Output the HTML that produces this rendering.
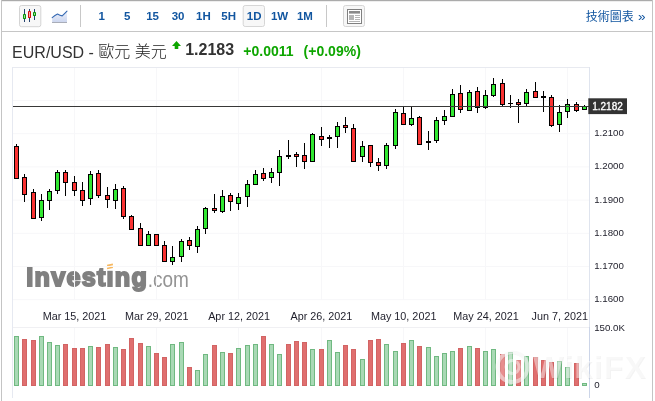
<!DOCTYPE html>
<html lang="zh-Hant"><head><meta charset="utf-8"><title>EUR/USD</title>
<style>
html,body{margin:0;padding:0;background:#fff;}
body{width:655px;height:401px;overflow:hidden;font-family:"Liberation Sans","Noto Sans CJK TC",sans-serif;}
svg{display:block;position:absolute;left:0;top:0;}
text{font-family:"Liberation Sans","Noto Sans CJK TC",sans-serif;}
.tb{font-size:11.5px;font-weight:bold;fill:#1256a0;}
.ax{font-size:9.7px;fill:#1e1e2a;}
.dt{font-size:10.8px;fill:#1e1e2a;}
</style></head><body>
<svg width="655" height="401" viewBox="0 0 655 401">
<rect x="0" y="0" width="655" height="401" fill="#fff"/>

<g id="frame">
<rect x="1" y="0" width="652" height="1.2" fill="#ababab"/>
<rect x="1" y="0" width="1" height="401" fill="#c4c4c4"/>
<rect x="652" y="0" width="1" height="401" fill="#c4c4c4"/>
<rect x="1" y="31" width="651" height="1" fill="#c6c6c6"/>
</g>
<g id="toolbar">
<rect x="19.5" y="5.5" width="21.3" height="21.2" rx="2" fill="#f7f7f7" stroke="#d4d4d4"/>
<rect x="24.0" y="9" width="1" height="13" fill="#24426e"/>
<rect x="23.0" y="14" width="3" height="5" rx="0.4" fill="#0b930b"/>
<rect x="24.0" y="15" width="1" height="3" fill="#9be29b"/>
<rect x="29.0" y="9" width="1" height="13" fill="#24426e"/>
<rect x="28.0" y="11" width="3" height="7" rx="0.4" fill="#d40f0f"/>
<rect x="29.0" y="12" width="1" height="5" fill="#f9a3a3"/>
<rect x="34.0" y="9" width="1" height="11" fill="#24426e"/>
<rect x="33.0" y="12" width="3" height="4" rx="0.4" fill="#0b930b"/>
<rect x="34.0" y="13" width="1" height="2" fill="#9be29b"/>
<defs><linearGradient id="lg" x1="0" y1="0" x2="0" y2="1"><stop offset="0" stop-color="#eef2fb"/><stop offset="1" stop-color="#cdd7ef"/></linearGradient></defs>
<path d="M52.2 22 L52.2 17.6 Q55 15.2 57.5 14 Q60 15.4 62.2 15.9 Q64.6 13.6 67 11.1 L67 22 Z" fill="url(#lg)"/>
<path d="M52.2 17.6 Q55 15.2 57.5 14 Q60 15.4 62.2 15.9 Q64.6 13.6 67 11.1" fill="none" stroke="#3468b2" stroke-width="1.1" stroke-linecap="round"/>
<rect x="52" y="22" width="15" height="1" fill="#a9adb8"/>
<rect x="80" y="5" width="1" height="22" fill="#c8c8c8"/>
<rect x="243.2" y="5.5" width="21.3" height="21" rx="2" fill="#f7f7f7" stroke="#d6d6d6"/>
<text class="tb" x="101.6" y="19.8" text-anchor="middle">1</text>
<text class="tb" x="127.1" y="19.8" text-anchor="middle">5</text>
<text class="tb" x="152.6" y="19.8" text-anchor="middle">15</text>
<text class="tb" x="178.1" y="19.8" text-anchor="middle">30</text>
<text class="tb" x="203.4" y="19.8" text-anchor="middle">1H</text>
<text class="tb" x="228.6" y="19.8" text-anchor="middle">5H</text>
<text class="tb" x="254.2" y="19.8" text-anchor="middle">1D</text>
<text class="tb" x="279.5" y="19.8" text-anchor="middle">1W</text>
<text class="tb" x="304.9" y="19.8" text-anchor="middle">1M</text>
<rect x="326" y="5" width="1" height="22" fill="#c8c8c8"/>
<rect x="343.5" y="5.5" width="21" height="21" rx="2" fill="#f7f7f7" stroke="#d6d6d6"/>
<rect x="347.5" y="9.5" width="14" height="14" fill="#fff" stroke="#808080"/>
<rect x="349" y="11" width="11" height="2.6" fill="#8a8a8a"/>
<rect x="349" y="15" width="5" height="5" fill="#b5b5b5"/>
<rect x="355" y="15" width="5" height="1" fill="#b5b5b5"/>
<rect x="355" y="17" width="5" height="1" fill="#b5b5b5"/>
<rect x="355" y="19" width="5" height="1" fill="#b5b5b5"/>
<rect x="349" y="21" width="11" height="1" fill="#b5b5b5"/>
<text x="645.6" y="20.8" text-anchor="end" style="font-size:12px;fill:#1256a0;">技術圖表<tspan dx="0.6" style="font-size:13.5px;"> »</tspan></text>
</g>
<g id="title">
<text x="12.1" y="57.7" style="font-size:16px;fill:#333;">EUR/USD - <tspan dy="-0.6" style="font-weight:300;fill:#1c1c1c;">歐元 美元</tspan></text>
<path d="M176.5 41 L181 46 L178.3 46 L178.3 49 L174.7 49 L174.7 46 L172 46 Z" fill="#0ea600"/>
<text x="185.2" y="54.8" style="font-size:16px;font-weight:bold;fill:#333;">1.2183</text>
<text x="243.3" y="55.6" style="font-size:14px;font-weight:bold;fill:#0ea600;">+0.0011</text>
<text x="303.6" y="55.6" style="font-size:14px;font-weight:bold;fill:#0ea600;">(+0.09%)</text>
</g>
<g id="wm">
<text x="26.3" y="286" textLength="120.6" lengthAdjust="spacing" style="font-size:25.2px;font-weight:bold;fill:#808080;stroke:#808080;stroke-width:1.9px;stroke-linejoin:miter;">Investing</text>
<text transform="translate(147.7 286.9) scale(0.865 1)" style="font-size:22px;fill:#949494;">.com</text>
<rect x="105.8" y="263" width="8.6" height="7.6" fill="#fff"/>
<rect x="107" y="264.2" width="6" height="1.6" fill="#f7b860" transform="rotate(-12 110 265)"/>
<rect x="107" y="267" width="6" height="1.6" fill="#f7b860" transform="rotate(-12 110 268)"/>
</g>
<g id="grid">
<rect x="74" y="67" width="1" height="233" fill="#f7f7f9"/>
<rect x="74" y="327" width="1" height="59" fill="#f7f7f9"/>
<rect x="156" y="67" width="1" height="233" fill="#f7f7f9"/>
<rect x="156" y="327" width="1" height="59" fill="#f7f7f9"/>
<rect x="238" y="67" width="1" height="233" fill="#f7f7f9"/>
<rect x="238" y="327" width="1" height="59" fill="#f7f7f9"/>
<rect x="321" y="67" width="1" height="233" fill="#f7f7f9"/>
<rect x="321" y="327" width="1" height="59" fill="#f7f7f9"/>
<rect x="403" y="67" width="1" height="233" fill="#f7f7f9"/>
<rect x="403" y="327" width="1" height="59" fill="#f7f7f9"/>
<rect x="485" y="67" width="1" height="233" fill="#f7f7f9"/>
<rect x="485" y="327" width="1" height="59" fill="#f7f7f9"/>
<rect x="567" y="67" width="1" height="233" fill="#f7f7f9"/>
<rect x="567" y="327" width="1" height="59" fill="#f7f7f9"/>
<rect x="12" y="100" width="577" height="1" fill="#f7f7f9"/>
<rect x="12" y="133.2" width="577" height="1" fill="#f7f7f9"/>
<rect x="12" y="166.4" width="577" height="1" fill="#f7f7f9"/>
<rect x="12" y="199.6" width="577" height="1" fill="#f7f7f9"/>
<rect x="12" y="232.8" width="577" height="1" fill="#f7f7f9"/>
<rect x="12" y="266" width="577" height="1" fill="#f7f7f9"/>
<rect x="12" y="299.2" width="577" height="1" fill="#f7f7f9"/>
<rect x="12" y="327" width="577" height="1" fill="#f0f0f3"/>
<rect x="12" y="67" width="577" height="1" fill="#e8eaf0"/>
<rect x="12" y="67" width="1" height="331" fill="#e6e9f1"/>
<rect x="589" y="67" width="1" height="260" fill="#dfe4ee"/>
<rect x="589" y="327" width="1" height="71" fill="#ccd5e8"/>
</g>
<g id="vol">
<rect x="14.5" y="336.5" width="4" height="49.0" fill="#a9d9b5" stroke="#70b981"/>
<rect x="22.5" y="339.5" width="4" height="46.0" fill="#e06f6f" stroke="#d26464"/>
<rect x="31.5" y="340.5" width="4" height="45.0" fill="#e06f6f" stroke="#d26464"/>
<rect x="39.5" y="336.5" width="4" height="49.0" fill="#a9d9b5" stroke="#70b981"/>
<rect x="47.5" y="342.5" width="4" height="43.0" fill="#a9d9b5" stroke="#70b981"/>
<rect x="55.5" y="345.5" width="4" height="40.0" fill="#a9d9b5" stroke="#70b981"/>
<rect x="63.5" y="344.5" width="4" height="41.0" fill="#e06f6f" stroke="#d26464"/>
<rect x="72.5" y="348.5" width="4" height="37.0" fill="#e06f6f" stroke="#d26464"/>
<rect x="80.5" y="348.5" width="4" height="37.0" fill="#e06f6f" stroke="#d26464"/>
<rect x="88.5" y="346.5" width="4" height="39.0" fill="#a9d9b5" stroke="#70b981"/>
<rect x="96.5" y="347.5" width="4" height="38.0" fill="#e06f6f" stroke="#d26464"/>
<rect x="105.5" y="344.5" width="4" height="41.0" fill="#e06f6f" stroke="#d26464"/>
<rect x="113.5" y="347.5" width="4" height="38.0" fill="#a9d9b5" stroke="#70b981"/>
<rect x="121.5" y="349.5" width="4" height="36.0" fill="#e06f6f" stroke="#d26464"/>
<rect x="129.5" y="338.5" width="4" height="47.0" fill="#e06f6f" stroke="#d26464"/>
<rect x="138.5" y="343.5" width="4" height="42.0" fill="#e06f6f" stroke="#d26464"/>
<rect x="146.5" y="346.5" width="4" height="39.0" fill="#a9d9b5" stroke="#70b981"/>
<rect x="154.5" y="353.5" width="4" height="32.0" fill="#e06f6f" stroke="#d26464"/>
<rect x="162.5" y="357.5" width="4" height="28.0" fill="#e06f6f" stroke="#d26464"/>
<rect x="170.5" y="344.5" width="4" height="41.0" fill="#a9d9b5" stroke="#70b981"/>
<rect x="179.5" y="342.5" width="4" height="43.0" fill="#a9d9b5" stroke="#70b981"/>
<rect x="187.5" y="367.5" width="4" height="18.0" fill="#e06f6f" stroke="#d26464"/>
<rect x="195.5" y="370.5" width="4" height="15.0" fill="#a9d9b5" stroke="#70b981"/>
<rect x="203.5" y="354.5" width="4" height="31.0" fill="#a9d9b5" stroke="#70b981"/>
<rect x="212.5" y="345.5" width="4" height="40.0" fill="#e06f6f" stroke="#d26464"/>
<rect x="220.5" y="352.5" width="4" height="33.0" fill="#a9d9b5" stroke="#70b981"/>
<rect x="228.5" y="353.5" width="4" height="32.0" fill="#e06f6f" stroke="#d26464"/>
<rect x="236.5" y="348.5" width="4" height="37.0" fill="#a9d9b5" stroke="#70b981"/>
<rect x="245.5" y="345.5" width="4" height="40.0" fill="#a9d9b5" stroke="#70b981"/>
<rect x="253.5" y="344.5" width="4" height="41.0" fill="#a9d9b5" stroke="#70b981"/>
<rect x="261.5" y="336.5" width="4" height="49.0" fill="#e06f6f" stroke="#d26464"/>
<rect x="269.5" y="344.5" width="4" height="41.0" fill="#a9d9b5" stroke="#70b981"/>
<rect x="277.5" y="354.5" width="4" height="31.0" fill="#a9d9b5" stroke="#70b981"/>
<rect x="286.5" y="344.5" width="4" height="41.0" fill="#e06f6f" stroke="#d26464"/>
<rect x="294.5" y="341.5" width="4" height="44.0" fill="#e06f6f" stroke="#d26464"/>
<rect x="302.5" y="342.5" width="4" height="43.0" fill="#e06f6f" stroke="#d26464"/>
<rect x="310.5" y="349.5" width="4" height="36.0" fill="#a9d9b5" stroke="#70b981"/>
<rect x="319.5" y="349.5" width="4" height="36.0" fill="#e06f6f" stroke="#d26464"/>
<rect x="327.5" y="340.5" width="4" height="45.0" fill="#a9d9b5" stroke="#70b981"/>
<rect x="335.5" y="352.5" width="4" height="33.0" fill="#a9d9b5" stroke="#70b981"/>
<rect x="343.5" y="345.5" width="4" height="40.0" fill="#e06f6f" stroke="#d26464"/>
<rect x="351.5" y="349.5" width="4" height="36.0" fill="#e06f6f" stroke="#d26464"/>
<rect x="360.5" y="359.5" width="4" height="26.0" fill="#a9d9b5" stroke="#70b981"/>
<rect x="368.5" y="340.5" width="4" height="45.0" fill="#e06f6f" stroke="#d26464"/>
<rect x="376.5" y="339.5" width="4" height="46.0" fill="#e06f6f" stroke="#d26464"/>
<rect x="384.5" y="344.5" width="4" height="41.0" fill="#a9d9b5" stroke="#70b981"/>
<rect x="393.5" y="351.5" width="4" height="34.0" fill="#a9d9b5" stroke="#70b981"/>
<rect x="401.5" y="343.5" width="4" height="42.0" fill="#e06f6f" stroke="#d26464"/>
<rect x="409.5" y="340.5" width="4" height="45.0" fill="#a9d9b5" stroke="#70b981"/>
<rect x="417.5" y="346.5" width="4" height="39.0" fill="#e06f6f" stroke="#d26464"/>
<rect x="426.5" y="347.5" width="4" height="38.0" fill="#a9d9b5" stroke="#70b981"/>
<rect x="434.5" y="356.5" width="4" height="29.0" fill="#a9d9b5" stroke="#70b981"/>
<rect x="442.5" y="353.5" width="4" height="32.0" fill="#a9d9b5" stroke="#70b981"/>
<rect x="450.5" y="351.5" width="4" height="34.0" fill="#a9d9b5" stroke="#70b981"/>
<rect x="458.5" y="348.5" width="4" height="37.0" fill="#e06f6f" stroke="#d26464"/>
<rect x="467.5" y="346.5" width="4" height="39.0" fill="#a9d9b5" stroke="#70b981"/>
<rect x="475.5" y="348.5" width="4" height="37.0" fill="#e06f6f" stroke="#d26464"/>
<rect x="483.5" y="351.5" width="4" height="34.0" fill="#a9d9b5" stroke="#70b981"/>
<rect x="491.5" y="349.5" width="4" height="36.0" fill="#a9d9b5" stroke="#70b981"/>
<rect x="500.5" y="354.5" width="4" height="31.0" fill="#e06f6f" stroke="#d26464"/>
<rect x="508.5" y="352.5" width="4" height="33.0" fill="#a9d9b5" stroke="#70b981"/>
<rect x="516.5" y="360.5" width="4" height="25.0" fill="#e06f6f" stroke="#d26464"/>
<rect x="524.5" y="356.5" width="4" height="29.0" fill="#a9d9b5" stroke="#70b981"/>
<rect x="533.5" y="357.5" width="4" height="28.0" fill="#e06f6f" stroke="#d26464"/>
<rect x="541.5" y="360.5" width="4" height="25.0" fill="#e06f6f" stroke="#d26464"/>
<rect x="549.5" y="362.5" width="4" height="23.0" fill="#e06f6f" stroke="#d26464"/>
<rect x="557.5" y="361.5" width="4" height="24.0" fill="#a9d9b5" stroke="#70b981"/>
<rect x="565.5" y="367.5" width="4" height="18.0" fill="#a9d9b5" stroke="#70b981"/>
<rect x="574.5" y="363.5" width="4" height="22.0" fill="#e06f6f" stroke="#d26464"/>
<rect x="582.5" y="383.5" width="4" height="2.0" fill="#a9d9b5" stroke="#70b981"/>
</g>
<g id="candles">
<rect x="16" y="144" width="1" height="35" fill="#000"/>
<rect x="14.5" y="146.5" width="4" height="32" fill="#f93232" stroke="#000"/>
<rect x="24" y="174" width="1" height="28" fill="#000"/>
<rect x="22.5" y="177.5" width="4" height="17" fill="#f93232" stroke="#000"/>
<rect x="33" y="189" width="1" height="30" fill="#000"/>
<rect x="31.5" y="192.5" width="4" height="26" fill="#f93232" stroke="#000"/>
<rect x="41" y="194" width="1" height="27" fill="#000"/>
<rect x="39.5" y="200.5" width="4" height="17" fill="#32e832" stroke="#000"/>
<rect x="49" y="189" width="1" height="21" fill="#000"/>
<rect x="47.5" y="191.5" width="4" height="9" fill="#32e832" stroke="#000"/>
<rect x="57" y="170" width="1" height="24" fill="#000"/>
<rect x="55.5" y="172.5" width="4" height="18" fill="#32e832" stroke="#000"/>
<rect x="65" y="170" width="1" height="26" fill="#000"/>
<rect x="63.5" y="172.5" width="4" height="10" fill="#f93232" stroke="#000"/>
<rect x="74" y="176" width="1" height="20" fill="#000"/>
<rect x="72.5" y="182.5" width="4" height="8" fill="#f93232" stroke="#000"/>
<rect x="82" y="182" width="1" height="24" fill="#000"/>
<rect x="80.5" y="190.5" width="4" height="10" fill="#f93232" stroke="#000"/>
<rect x="90" y="171" width="1" height="34" fill="#000"/>
<rect x="88.5" y="174.5" width="4" height="24" fill="#32e832" stroke="#000"/>
<rect x="98" y="170" width="1" height="28" fill="#000"/>
<rect x="96.5" y="173.5" width="4" height="22" fill="#f93232" stroke="#000"/>
<rect x="107" y="187" width="1" height="21" fill="#000"/>
<rect x="105.5" y="195.5" width="4" height="4" fill="#f93232" stroke="#000"/>
<rect x="115" y="184" width="1" height="25" fill="#000"/>
<rect x="113.5" y="189.5" width="4" height="11" fill="#32e832" stroke="#000"/>
<rect x="123" y="186" width="1" height="33" fill="#000"/>
<rect x="121.5" y="188.5" width="4" height="28" fill="#f93232" stroke="#000"/>
<rect x="131" y="215" width="1" height="15" fill="#000"/>
<rect x="129.5" y="216.5" width="4" height="13" fill="#f93232" stroke="#000"/>
<rect x="140" y="223" width="1" height="23" fill="#000"/>
<rect x="138.5" y="228.5" width="4" height="17" fill="#f93232" stroke="#000"/>
<rect x="148" y="231" width="1" height="15" fill="#000"/>
<rect x="146.5" y="234.5" width="4" height="11" fill="#32e832" stroke="#000"/>
<rect x="156" y="234" width="1" height="12" fill="#000"/>
<rect x="154.5" y="234.5" width="4" height="11" fill="#f93232" stroke="#000"/>
<rect x="164" y="241" width="1" height="21" fill="#000"/>
<rect x="162.5" y="245.5" width="4" height="16" fill="#f93232" stroke="#000"/>
<rect x="172" y="246" width="1" height="19" fill="#000"/>
<rect x="170.5" y="257.5" width="4" height="4" fill="#32e832" stroke="#000"/>
<rect x="181" y="239" width="1" height="23" fill="#000"/>
<rect x="179.5" y="241.5" width="4" height="15" fill="#32e832" stroke="#000"/>
<rect x="189" y="237" width="1" height="13" fill="#000"/>
<rect x="187.5" y="240.5" width="4" height="5" fill="#f93232" stroke="#000"/>
<rect x="197" y="226" width="1" height="27" fill="#000"/>
<rect x="195.5" y="229.5" width="4" height="17" fill="#32e832" stroke="#000"/>
<rect x="205" y="207" width="1" height="27" fill="#000"/>
<rect x="203.5" y="208.5" width="4" height="20" fill="#32e832" stroke="#000"/>
<rect x="214" y="194" width="1" height="19" fill="#000"/>
<rect x="212.5" y="208.5" width="4" height="2" fill="#f93232" stroke="#000"/>
<rect x="222" y="190" width="1" height="23" fill="#000"/>
<rect x="220.5" y="196.5" width="4" height="15" fill="#32e832" stroke="#000"/>
<rect x="230" y="193" width="1" height="18" fill="#000"/>
<rect x="228.5" y="195.5" width="4" height="6" fill="#f93232" stroke="#000"/>
<rect x="238" y="193" width="1" height="17" fill="#000"/>
<rect x="236.5" y="197.5" width="4" height="6" fill="#32e832" stroke="#000"/>
<rect x="247" y="180" width="1" height="27" fill="#000"/>
<rect x="245.5" y="184.5" width="4" height="12" fill="#32e832" stroke="#000"/>
<rect x="255" y="170" width="1" height="15" fill="#000"/>
<rect x="253.5" y="174.5" width="4" height="10" fill="#32e832" stroke="#000"/>
<rect x="263" y="168" width="1" height="13" fill="#000"/>
<rect x="261.5" y="173.5" width="4" height="5" fill="#f93232" stroke="#000"/>
<rect x="271" y="168" width="1" height="15" fill="#000"/>
<rect x="269.5" y="172.5" width="4" height="5" fill="#32e832" stroke="#000"/>
<rect x="279" y="150" width="1" height="36" fill="#000"/>
<rect x="277.5" y="156.5" width="4" height="16" fill="#32e832" stroke="#000"/>
<rect x="288" y="140" width="1" height="19" fill="#000"/>
<rect x="286" y="155" width="5" height="2" fill="#000"/>
<rect x="296" y="152" width="1" height="15" fill="#000"/>
<rect x="294.5" y="154.5" width="4" height="2" fill="#f93232" stroke="#000"/>
<rect x="304" y="143" width="1" height="26" fill="#000"/>
<rect x="302.5" y="155.5" width="4" height="6" fill="#f93232" stroke="#000"/>
<rect x="312" y="133" width="1" height="29" fill="#000"/>
<rect x="310.5" y="134.5" width="4" height="27" fill="#32e832" stroke="#000"/>
<rect x="321" y="127" width="1" height="19" fill="#000"/>
<rect x="319.5" y="136.5" width="4" height="3" fill="#f93232" stroke="#000"/>
<rect x="329" y="135" width="1" height="13" fill="#000"/>
<rect x="327" y="137" width="5" height="2" fill="#000"/>
<rect x="337" y="122" width="1" height="26" fill="#000"/>
<rect x="335.5" y="126.5" width="4" height="10" fill="#32e832" stroke="#000"/>
<rect x="345" y="117" width="1" height="16" fill="#000"/>
<rect x="343.5" y="125.5" width="4" height="2" fill="#f93232" stroke="#000"/>
<rect x="353" y="124" width="1" height="38" fill="#000"/>
<rect x="351.5" y="128.5" width="4" height="33" fill="#f93232" stroke="#000"/>
<rect x="362" y="141" width="1" height="21" fill="#000"/>
<rect x="360.5" y="146.5" width="4" height="10" fill="#32e832" stroke="#000"/>
<rect x="370" y="145" width="1" height="22" fill="#000"/>
<rect x="368.5" y="145.5" width="4" height="17" fill="#f93232" stroke="#000"/>
<rect x="378" y="158" width="1" height="13" fill="#000"/>
<rect x="376.5" y="162.5" width="4" height="3" fill="#f93232" stroke="#000"/>
<rect x="386" y="143" width="1" height="26" fill="#000"/>
<rect x="384.5" y="145.5" width="4" height="20" fill="#32e832" stroke="#000"/>
<rect x="395" y="109" width="1" height="40" fill="#000"/>
<rect x="393.5" y="112.5" width="4" height="33" fill="#32e832" stroke="#000"/>
<rect x="403" y="106" width="1" height="19" fill="#000"/>
<rect x="401.5" y="113.5" width="4" height="11" fill="#f93232" stroke="#000"/>
<rect x="411" y="106" width="1" height="20" fill="#000"/>
<rect x="409.5" y="118.5" width="4" height="6" fill="#32e832" stroke="#000"/>
<rect x="419" y="116" width="1" height="29" fill="#000"/>
<rect x="417.5" y="117.5" width="4" height="27" fill="#f93232" stroke="#000"/>
<rect x="428" y="131" width="1" height="19" fill="#000"/>
<rect x="426" y="141" width="5" height="2" fill="#000"/>
<rect x="436" y="117" width="1" height="26" fill="#000"/>
<rect x="434.5" y="120.5" width="4" height="20" fill="#32e832" stroke="#000"/>
<rect x="444" y="110" width="1" height="15" fill="#000"/>
<rect x="442.5" y="116.5" width="4" height="4" fill="#32e832" stroke="#000"/>
<rect x="452" y="89" width="1" height="28" fill="#000"/>
<rect x="450.5" y="94.5" width="4" height="22" fill="#32e832" stroke="#000"/>
<rect x="460" y="85" width="1" height="28" fill="#000"/>
<rect x="458.5" y="93.5" width="4" height="16" fill="#f93232" stroke="#000"/>
<rect x="469" y="90" width="1" height="21" fill="#000"/>
<rect x="467.5" y="92.5" width="4" height="18" fill="#32e832" stroke="#000"/>
<rect x="477" y="87" width="1" height="26" fill="#000"/>
<rect x="475.5" y="91.5" width="4" height="16" fill="#f93232" stroke="#000"/>
<rect x="485" y="90" width="1" height="19" fill="#000"/>
<rect x="483.5" y="95.5" width="4" height="12" fill="#32e832" stroke="#000"/>
<rect x="493" y="78" width="1" height="19" fill="#000"/>
<rect x="491.5" y="84.5" width="4" height="11" fill="#32e832" stroke="#000"/>
<rect x="502" y="79" width="1" height="27" fill="#000"/>
<rect x="500.5" y="83.5" width="4" height="21" fill="#f93232" stroke="#000"/>
<rect x="510" y="95" width="1" height="13" fill="#000"/>
<rect x="508" y="103" width="5" height="1" fill="#000"/>
<rect x="518" y="99" width="1" height="24" fill="#000"/>
<rect x="516.5" y="102.5" width="4" height="2" fill="#f93232" stroke="#000"/>
<rect x="526" y="89" width="1" height="18" fill="#000"/>
<rect x="524.5" y="92.5" width="4" height="11" fill="#32e832" stroke="#000"/>
<rect x="535" y="82" width="1" height="16" fill="#000"/>
<rect x="533.5" y="91.5" width="4" height="6" fill="#f93232" stroke="#000"/>
<rect x="543" y="91" width="1" height="21" fill="#000"/>
<rect x="541" y="96" width="5" height="2" fill="#000"/>
<rect x="551" y="95" width="1" height="32" fill="#000"/>
<rect x="549.5" y="97.5" width="4" height="28" fill="#f93232" stroke="#000"/>
<rect x="559" y="105" width="1" height="27" fill="#000"/>
<rect x="557.5" y="112.5" width="4" height="12" fill="#32e832" stroke="#000"/>
<rect x="567" y="99" width="1" height="19" fill="#000"/>
<rect x="565.5" y="104.5" width="4" height="7" fill="#32e832" stroke="#000"/>
<rect x="576" y="102" width="1" height="10" fill="#000"/>
<rect x="574.5" y="104.5" width="4" height="6" fill="#f93232" stroke="#000"/>
<rect x="584" y="105" width="1" height="5" fill="#000"/>
<rect x="582.5" y="106.5" width="4" height="3" fill="#32e832" stroke="#000"/>
</g>
<rect x="13" y="106" width="576" height="1" fill="#383838"/>
<g id="axis">
<text class="ax" x="594.2" y="136">1.2100</text>
<text class="ax" x="594.2" y="169">1.2000</text>
<text class="ax" x="594.2" y="203">1.1900</text>
<text class="ax" x="594.2" y="236">1.1800</text>
<text class="ax" x="594.2" y="269">1.1700</text>
<text class="ax" x="594.2" y="302">1.1600</text>
<rect x="588.3" y="98.3" width="38.7" height="15.8" fill="#333"/>
<text x="592.2" y="110.3" style="font-size:10px;fill:#fff;stroke:#fff;stroke-width:0.3px;">1.2182</text>
<text class="ax" x="594.2" y="331">150.0K</text>
<text class="ax" x="594.2" y="388">0</text>
<text class="dt" x="74.5" y="320.2" text-anchor="middle">Mar 15, 2021</text>
<text class="dt" x="156.8" y="320.2" text-anchor="middle">Mar 29, 2021</text>
<text class="dt" x="239.1" y="320.2" text-anchor="middle">Apr 12, 2021</text>
<text class="dt" x="321.4" y="320.2" text-anchor="middle">Apr 26, 2021</text>
<text class="dt" x="403.7" y="320.2" text-anchor="middle">May 10, 2021</text>
<text class="dt" x="486.0" y="320.2" text-anchor="middle">May 24, 2021</text>
<text class="dt" x="588" y="320.2" text-anchor="end">Jun 7, 2021</text>
</g>
<g id="wikifx">
<g opacity="0.045"><circle cx="513.2" cy="367.8" r="15" fill="none" stroke="#000" stroke-width="4"/>
<text x="534" y="379" style="font-size:32px;font-weight:bold;fill:#000;letter-spacing:1.2px;">WikiFX</text></g>
<circle cx="512.5" cy="367" r="17" fill="#fff" opacity="0.22"/>
<g opacity="0.45"><circle cx="512.5" cy="367" r="15" fill="none" stroke="#fff" stroke-width="4"/>
<circle cx="512.5" cy="367" r="6.5" fill="none" stroke="#fff" stroke-width="3"/>
<text x="533" y="378" style="font-size:32px;font-weight:bold;fill:#fff;letter-spacing:1.2px;">WikiFX</text></g>
</g>
</svg>
</body></html>
